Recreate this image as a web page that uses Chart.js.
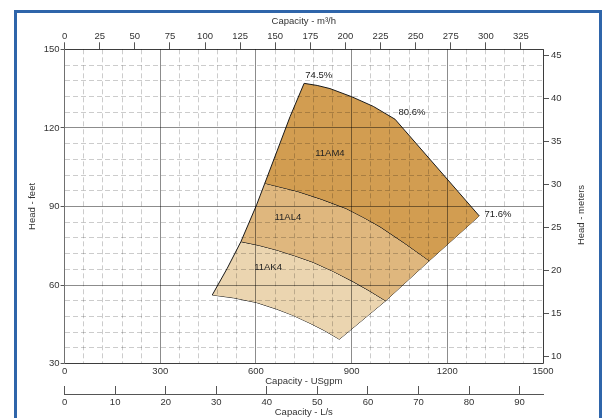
<!DOCTYPE html>
<html>
<head>
<meta charset="utf-8">
<script src="https://cdn.jsdelivr.net/npm/chart.js@4"></script>
<style>
  body { margin: 0; background: #fff; }
  #wrap { position: relative; width: 603px; height: 418px; overflow: hidden; }
  #frame { position: absolute; left: 14px; top: 10px; width: 588px; height: 430px; border: 3px solid #2f65aa; box-sizing: border-box; }
  #myChart { position: absolute; left: 0; top: 0; }
</style>
</head>
<body>
<div id="wrap">
  <div id="frame"></div>
  <canvas id="myChart" width="603" height="418"></canvas>
</div>
<script>
// curves: [USgpm, head in feet]
const akLeft = [[463, 56.2], [510, 66.4], [553, 76.6]];
const alLeft = [[553, 76.6], [602, 90.6], [628, 98.9]];
const amLeft = [[628, 98.9], [707, 124.3], [751, 137]];
const topArc = [[751, 137], [792, 136.2], [832, 135.0], [900, 131.9], [968, 128.2], [1036, 123.3]];
const rightTop = [[1036, 123.3], [1300, 86.4]];
const amAlLine = [[628, 98.9], [730, 95.8], [805, 92.8], [882, 89.3], [935, 86.0], [989, 82.3], [1066, 76.0], [1143.5, 69.3]];
const alAkLine = [[553, 76.6], [609, 75.2], [665, 73.4], [722, 71.2], [780, 68.7], [843, 65.2], [905, 61.3], [956, 57.8], [1006.8, 54.0]];
const akBottom = [[463, 56.2], [530, 55.1], [602, 53.3], [665, 50.8], [717, 48.4], [769.5, 45.4], [815, 42.6], [861.4, 39.3]];
const rightEdge = [[861.4, 39.3], [1006.8, 54.0], [1143.5, 69.3], [1300, 86.4]];
const bepLine = [[1036, 123.3], [989, 113.4], [947, 103.9], [884.5, 88.9], [780, 69.6], [665, 50.8]];

const regionNames = ['11AM4', '11AL4', '11AK4'];
const regionAt = [[832, 110.4], [700, 86], [638, 66.9]];
const regionColors = ['#d29d51', '#dfb77e', '#ebd5b0'];
const effNames = ['74.5%', '80.6%', '71.6%'];
const effAt = [[797, 140.2], [1089, 126], [1359, 86.8]];

// axis ticks
const m3hTicks = [0, 25, 50, 75, 100, 125, 150, 175, 200, 225, 250, 275, 300, 325];
const lsTicks = [0, 10, 20, 30, 40, 50, 60, 70, 80, 90];
const meterTicks = [10, 15, 20, 25, 30, 35, 40, 45];

const gpmMax = 1500;
const ftMin = 30, ftMax = 150;
const m3hPerGpm = 0.227125;
const lsPerGpm = 0.0630902;
const mPerFt = 0.3048;

const FONT = "'Liberation Sans', Arial, sans-serif";
Chart.defaults.font.family = FONT;
Chart.defaults.font.size = 9.5;
Chart.defaults.color = '#333';

function pts(a) { return a.map(p => ({x: p[0], y: p[1]})); }
function fixedTicks(list) { return s => { s.ticks = list.map(v => ({value: v})); }; }

const amUpper = amLeft.concat(topArc.slice(1), rightTop.slice(1));
const amLower = amAlLine.concat(rightEdge.slice(3));
const alUpper = alLeft.concat(amAlLine.slice(1));
const alLower = alAkLine.concat(rightEdge.slice(2, 3));
const akUpper = akLeft.concat(alAkLine.slice(1));
const akLower = akBottom.concat(rightEdge.slice(1, 2));

function edge(data, fillColor) {
  return {
    data: pts(data),
    borderColor: '#1a1a1a',
    borderWidth: 1,
    pointRadius: 0,
    tension: 0,
    fill: fillColor ? '+1' : false,
    backgroundColor: fillColor || 'transparent'
  };
}

const MAJOR = 'rgba(0,0,0,0.45)';
const MINOR = 'rgba(0,0,0,0.2)';
const AXIS = '#707070';

const labelPlugin = {
  id: 'curveLabels',
  afterDraw(chart) {
    const ctx = chart.ctx;
    const x = chart.scales.x, y = chart.scales.y;
    ctx.save();
    ctx.font = '9.5px ' + FONT;
    ctx.fillStyle = '#222';
    ctx.textAlign = 'center';
    ctx.textBaseline = 'middle';
    regionNames.forEach((t, i) => {
      ctx.fillText(t, x.getPixelForValue(regionAt[i][0]), y.getPixelForValue(regionAt[i][1]));
    });
    effNames.forEach((t, i) => {
      ctx.fillText(t, x.getPixelForValue(effAt[i][0]), y.getPixelForValue(effAt[i][1]));
    });
    // right axis title, reading upwards like the left one
    ctx.fillStyle = '#333';
    ctx.translate(chart.scales.yM.right - 10, 215);
    ctx.rotate(-Math.PI / 2);
    ctx.fillText('Head - meters', 0, 0);
    ctx.restore();
  }
};

var ctx = document.getElementById('myChart');
var myChart = new Chart(ctx, {
  type: 'line',
  data: {
    datasets: [
      edge(amUpper, regionColors[0]),
      edge(amLower),
      edge(alUpper, regionColors[1]),
      edge(alLower),
      edge(akUpper, regionColors[2]),
      edge(akLower),
      {
        data: pts(bepLine),
        borderColor: '#e8342c',
        borderWidth: 1,
        borderDash: [3, 2],
        pointRadius: 0,
        fill: false
      }
    ]
  },
  options: {
    responsive: false,
    animation: false,
    layout: { padding: { left: 23, right: 12, top: 10, bottom: 0 } },
    plugins: { legend: { display: false }, tooltip: { enabled: false } },
    scales: {
      x: {
        type: 'linear', position: 'bottom', weight: 0,
        min: 0, max: gpmMax, bounds: 'data',
        afterFit: s => { s.height = 30.4; },
        title: { display: true, text: 'Capacity - USgpm', padding: 7 },
        ticks: {
          stepSize: 60, autoSkip: false, maxRotation: 0, padding: 2,
          callback: v => (v % 300 === 0 ? v : '')
        },
        grid: {
          z: 1, tickLength: 0,
          color: c => (c.tick && c.tick.value % 300 !== 0 ? MINOR : MAJOR)
        },
        border: {
          z: 1, color: AXIS,
          dash: c => (c.tick && c.tick.value % 300 !== 0 ? [5, 3] : [])
        }
      },
      xLs: {
        type: 'linear', position: 'bottom', weight: 1,
        min: 0, max: gpmMax * lsPerGpm, bounds: 'data',
        afterFit: s => { s.height = 24; },
        afterBuildTicks: fixedTicks(lsTicks),
        title: { display: true, text: 'Capacity - L/s', padding: 0 },
        ticks: { autoSkip: false, maxRotation: 0, padding: 11 },
        grid: { drawOnChartArea: false, tickLength: -8, tickColor: '#555' },
        border: { color: '#555' }
      },
      xTop: {
        type: 'linear', position: 'top',
        min: 0, max: gpmMax * m3hPerGpm, bounds: 'data',
        afterFit: s => { s.height = 39.3; },
        afterBuildTicks: fixedTicks(m3hTicks),
        title: { display: true, text: 'Capacity - m³/h', padding: 5.5 },
        ticks: { autoSkip: false, maxRotation: 0, padding: 0 },
        grid: { drawOnChartArea: false, tickLength: 7, tickColor: '#555' },
        border: { color: AXIS }
      },
      y: {
        type: 'linear', position: 'left',
        min: ftMin, max: ftMax, bounds: 'data',
        afterFit: s => { s.width = 41.6; },
        title: { display: true, text: 'Head - feet', padding: 4 },
        ticks: {
          stepSize: 6, autoSkip: false, padding: 1,
          callback: v => (v % 30 === 0 ? v : '')
        },
        grid: {
          z: 1, tickLength: 4,
          color: c => (c.tick && c.tick.value % 30 !== 0 ? MINOR : MAJOR),
          tickColor: c => (c.tick && c.tick.value % 30 !== 0 ? 'transparent' : '#555')
        },
        border: {
          z: 1, color: AXIS,
          dash: c => (c.tick && c.tick.value % 30 !== 0 ? [5, 3] : [])
        }
      },
      yM: {
        type: 'linear', position: 'right',
        min: ftMin * mPerFt, max: ftMax * mPerFt, bounds: 'data',
        afterFit: s => { s.width = 48; },
        afterBuildTicks: fixedTicks(meterTicks),
        ticks: { autoSkip: false, padding: 2 },
        grid: { drawOnChartArea: false, tickLength: 6, tickColor: '#555' },
        border: { color: AXIS }
      }
    }
  },
  plugins: [labelPlugin]
});
</script>
</body>
</html>
